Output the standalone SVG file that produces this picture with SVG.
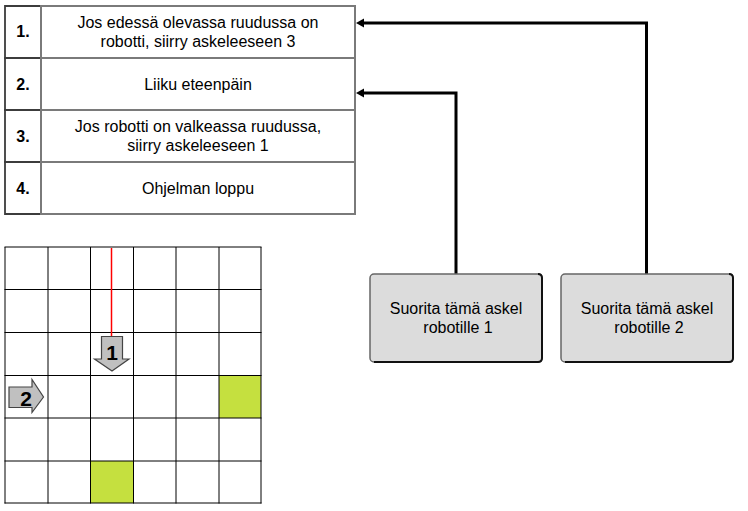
<svg xmlns="http://www.w3.org/2000/svg" width="748" height="511" viewBox="0 0 748 511">
<style>
text{font-family:"Liberation Sans",Arial,sans-serif;font-size:16px;fill:#000;text-anchor:middle}
.num{font-weight:bold}
.cell{fill:#fff;stroke:#7a7a7a;stroke-width:2}
.idx{fill:none;stroke:#3c3c3c;stroke-width:1.800}
.btn{fill:#dcdcdc;stroke:#666;stroke-width:1.500}
.edge{fill:none;stroke:#111;stroke-width:2}
.grid{stroke:#000;stroke-width:1;fill:none}
.conn{fill:none;stroke:#000;stroke-width:3}
.head{fill:#000}
.robot{fill:#c0c0c0;stroke:#444;stroke-width:1.200}
.rlabel{font-weight:bold;font-size:21px}
</style>
<rect width="748" height="511" fill="#fff"/>
<g id="step1"><path class="idx" d="M41 6H5V58H41"/><rect class="cell" x="41" y="6" width="314" height="52"/><text class="num" x="23" y="37">1.</text><text x="198" y="28">Jos edessä olevassa ruudussa on</text><text x="198" y="47">robotti, siirry askeleeseen 3</text></g>
<g id="step2"><path class="idx" d="M41 58H5V110H41"/><rect class="cell" x="41" y="58" width="314" height="52"/><text class="num" x="23" y="90">2.</text><text x="198" y="90">Liiku eteenpäin</text></g>
<g id="step3"><path class="idx" d="M41 110H5V162H41"/><rect class="cell" x="41" y="110" width="314" height="52"/><text class="num" x="23" y="142">3.</text><text x="198" y="132">Jos robotti on valkeassa ruudussa,</text><text x="198" y="151">siirry askeleeseen 1</text></g>
<g id="step4"><path class="idx" d="M41 162H5V214H41"/><rect class="cell" x="41" y="162" width="314" height="52"/><text class="num" x="23" y="194">4.</text><text x="198" y="194">Ohjelman loppu</text></g>
<g id="connectors">
<path class="conn" d="M456 274V93H363"/><path class="head" d="M356 93L364 88.500V97.500Z"/>
<path class="conn" d="M646.500 274V23H363"/><path class="head" d="M356 23L364 18.500V27.500Z"/>
</g>
<g id="button1"><rect class="btn" x="370" y="274" width="172" height="88" rx="4"/><path class="edge" d="M538 274Q542 274 542 278V358Q542 362 538 362H374"/><text x="456" y="314">Suorita tämä askel</text><text x="458" y="333">robotille 1</text></g>
<g id="button2"><rect class="btn" x="561" y="274" width="172" height="88" rx="4"/><path class="edge" d="M729 274Q733 274 733 278V358Q733 362 729 362H565"/><text x="647" y="314">Suorita tämä askel</text><text x="649" y="333">robotille 2</text></g>
<g id="board">
<rect x="219" y="375.500" width="42" height="42.500" fill="#c5e03f"/>
<rect x="90.500" y="461" width="43" height="42" fill="#c5e03f"/>
<path class="grid" d="M4.500 247H261.500M4.500 289.500H261.500M4.500 332.500H261.500M4.500 375.500H261.500M4.500 418H261.500M4.500 461H261.500M4.500 503H261.500M5 247V503.500M48 247V503.500M90.500 247V503.500M133.500 247V503.500M176 247V503.500M219 247V503.500M261 247V503.500"/>
<path d="M111.500 248V336" stroke="#ff0000" stroke-width="1.500" fill="none"/>
</g>
<g id="robot1"><path class="robot" d="M101.500 336.500H122.500V359H129L112 371L94.500 359H101.500Z"/><text class="rlabel" x="112" y="360">1</text></g>
<g id="robot2"><path class="robot" d="M9 387H32V379.500L43.500 397L32 412.500V407.500H9Z"/><text class="rlabel" x="26" y="406">2</text></g>
</svg>
